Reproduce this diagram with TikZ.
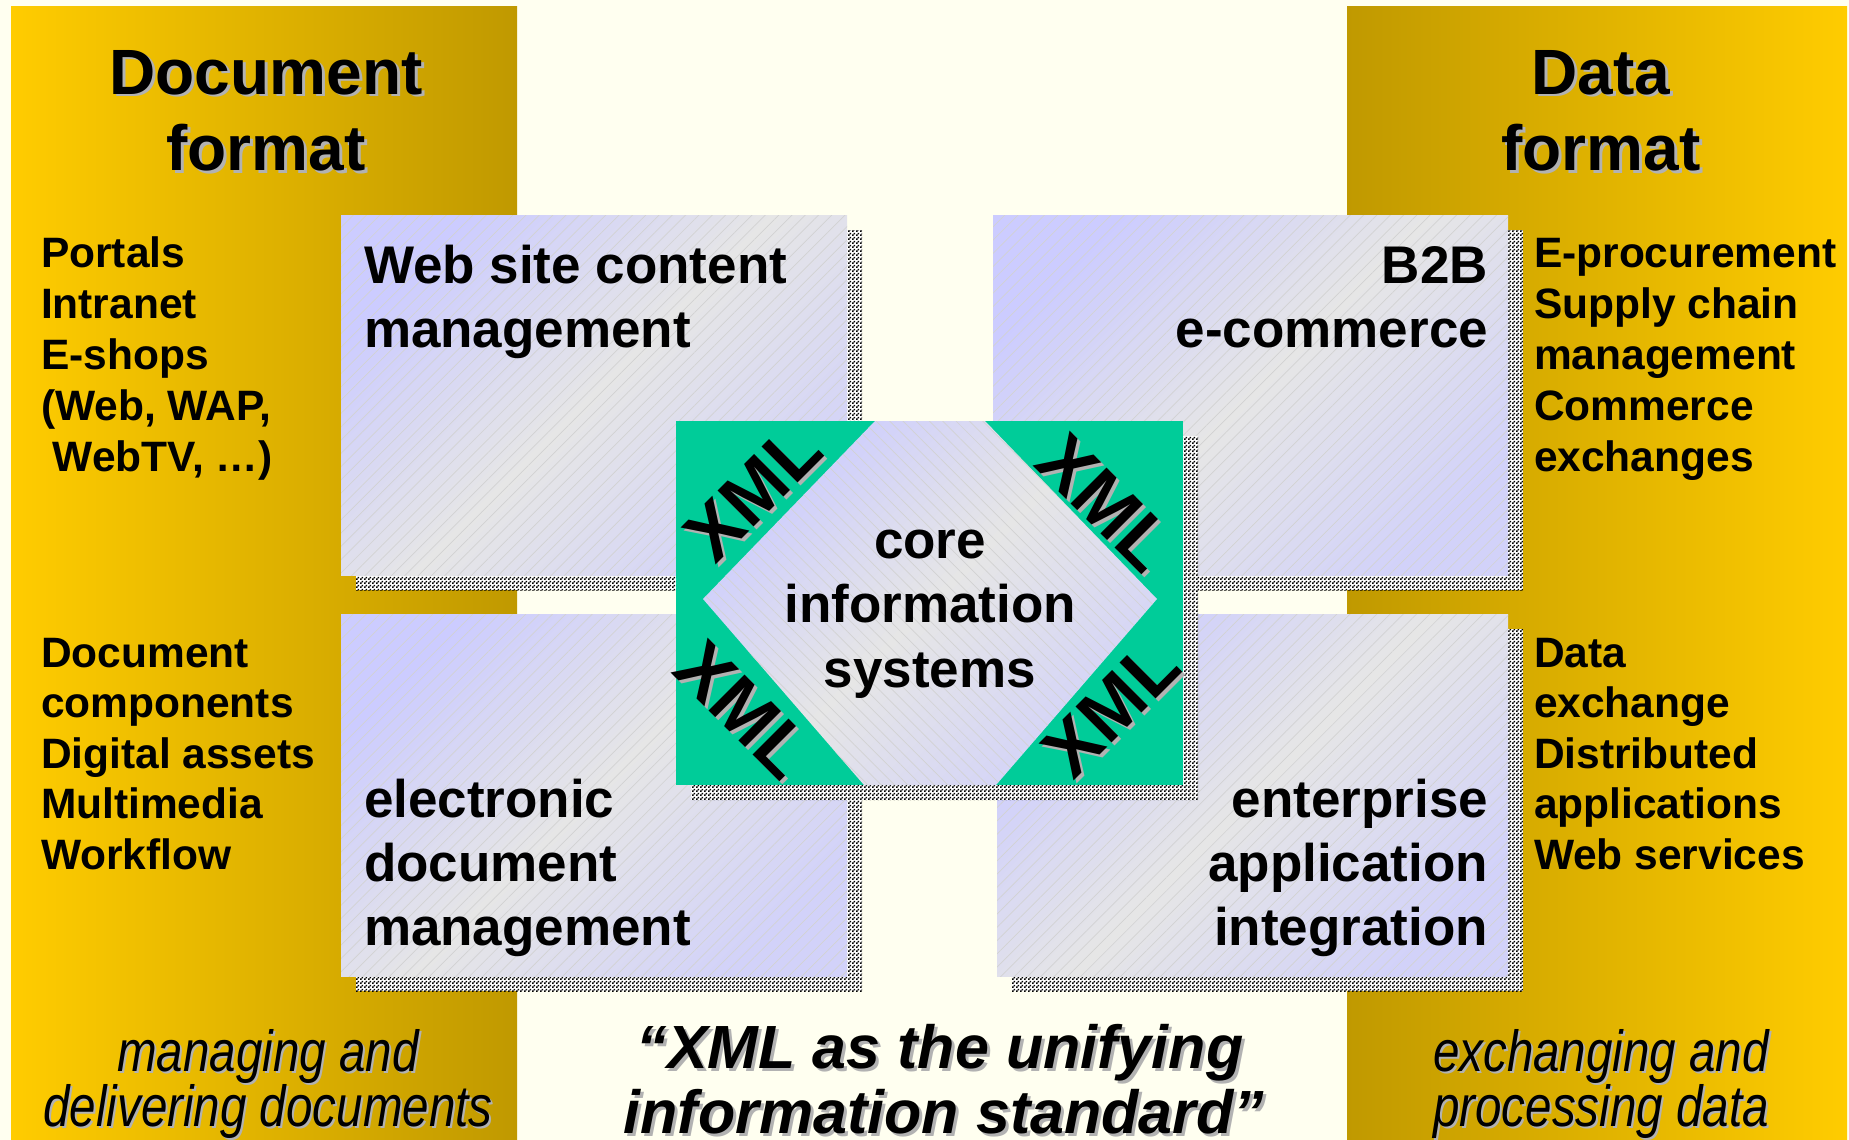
\documentclass[tikz,border=0pt]{standalone}
\usepackage{fontspec}
\setmainfont{Liberation Sans}
\newfontfamily\narrowsans[FakeStretch=0.82]{Liberation Sans}
\usetikzlibrary{calc,patterns,patterns.meta}

\definecolor{ivory}{RGB}{255,255,240}
\definecolor{goldlight}{RGB}{255,204,0}
\definecolor{golddark}{RGB}{192,153,0}
\definecolor{lavender}{RGB}{204,204,255}
\definecolor{softgray}{RGB}{230,230,230}
\definecolor{xmlgreen}{RGB}{0,204,153}
\definecolor{shadowgray}{RGB}{178,178,178}

% fine black/white dither used for drop shadows
\pgfdeclarepatternformonly{finecheck}{\pgfpointorigin}{\pgfpoint{2pt}{2pt}}{\pgfpoint{2pt}{2pt}}{%
  \pgfpathrectangle{\pgfpointorigin}{\pgfpoint{1pt}{1pt}}%
  \pgfpathrectangle{\pgfpoint{1pt}{1pt}}{\pgfpoint{1pt}{1pt}}%
  \pgfusepath{fill}}

\tikzset{
  every node/.style={inner sep=0pt, outer sep=0pt},
  panelL/.style={left color=goldlight, right color=golddark},
  panelR/.style={left color=golddark, right color=goldlight},
  cardshade/.style={top color=lavender, bottom color=lavender!75!softgray,
                    middle color=softgray, shading angle=45},
  cardhatch/.style={pattern={Lines[angle=45,distance=4.7pt,line width=0.35pt]},
                    pattern color=gray!35},
  corehatch/.style={pattern={Lines[angle=-45,distance=4.7pt,line width=0.35pt]},
                    pattern color=gray!35},
  dither/.style={pattern=finecheck, pattern color=black},
  headline/.style={font=\fontsize{32}{38}\selectfont\bfseries, anchor=base},
  listitem/.style={font=\fontsize{21.25}{25}\selectfont\bfseries, anchor=base west},
  cardtext/.style={font=\fontsize{26.5}{32}\selectfont\bfseries},
  xmltag/.style={font=\fontsize{37}{44}\selectfont\bfseries},
  remark/.style={font=\narrowsans\itshape\fontsize{29}{30}\selectfont, anchor=base},
  motto/.style={font=\fontsize{30.5}{32}\selectfont\bfseries\itshape, anchor=base},
}

% card with dithered drop shadow, gradient fill and fine hatching
\newcommand\card[2]{%
  \fill[white, shift={(15,15)}] #1 rectangle #2;
  \fill[dither, shift={(15,15)}] #1 rectangle #2;
  \shade[cardshade] #1 rectangle #2;
  \fill[cardhatch] #1 rectangle #2;
}

% text with a grey offset shadow: name, style, position, offset, text
\newcommand\shadowed[5]{%
  \node[#2, text=shadowgray] (#1-sh) at ($#3+(#4,#4)$) {#5};
  \node[#2] (#1) at #3 {#5};
}

\begin{document}
\begin{tikzpicture}[x=0.5pt, y=-0.5pt]
  \clip (0,0) rectangle (1849,1140);
  \fill[ivory] (0,0) rectangle (1849,1140);

  % side panels
  \shade[panelL] (11,6) rectangle (517,1140);
  \shade[panelR] (1347,6) rectangle (1847,1140);

  % panel headings
  \shadowed{docA}{headline}{(266,94)}{3}{Document}
  \shadowed{docB}{headline}{(266,170)}{3}{format}
  \shadowed{datA}{headline}{(1601,94)}{3}{Data}
  \shadowed{datB}{headline}{(1601,170)}{3}{format}

  % application areas
  \card{(341,215)}{(847,575)}
  \card{(993,215)}{(1508,575)}
  \card{(341,614)}{(847,976)}
  \card{(997,614)}{(1508,976)}

  \node[cardtext, anchor=base west] (web1) at (364,283) {Web site content};
  \node[cardtext, anchor=base west] (web2) at (364,347) {management};
  \node[cardtext, anchor=base east] (b2b1) at (1488,283) {B2B};
  \node[cardtext, anchor=base east] (b2b2) at (1488,347) {e-commerce};
  \node[cardtext, anchor=base west] (edm1) at (364,817) {electronic};
  \node[cardtext, anchor=base west] (edm2) at (364,881) {document};
  \node[cardtext, anchor=base west] (edm3) at (364,945) {management};
  \node[cardtext, anchor=base east] (eai1) at (1488,817) {enterprise};
  \node[cardtext, anchor=base east] (eai2) at (1488,881) {application};
  \node[cardtext, anchor=base east] (eai3) at (1488,945) {integration};

  % side lists
  \foreach \t [count=\i] in {Portals, Intranet, E-shops, {(Web, WAP,}, {\ WebTV, …)}}
    \node[listitem] (lu\i) at (41,{267+(\i-1)*51.2}) {\t};
  \foreach \t [count=\i] in {Document, components, Digital assets, Multimedia, Workflow}
    \node[listitem] (ll\i) at (41,{667+(\i-1)*50.6}) {\t};
  \foreach \t [count=\i] in {E-procurement, Supply chain, management, Commerce, exchanges}
    \node[listitem] (ru\i) at (1534,{267+(\i-1)*51.2}) {\t};
  \foreach \t [count=\i] in {Data, exchange, Distributed, applications, Web services}
    \node[listitem] (rl\i) at (1534,{667+(\i-1)*50.6}) {\t};

  % central XML block
  \fill[white, shift={(15,15)}] (676,421) rectangle (1183,785);
  \fill[dither, shift={(15,15)}] (676,421) rectangle (1183,785);
  \fill[xmlgreen] (676,421) rectangle (1183,785);
  \shade[cardshade] (703,599) -- (875,421) -- (985,421) -- (1157,599)
        -- (996,785) -- (864,785) -- cycle;
  \fill[corehatch] (703,599) -- (875,421) -- (985,421) -- (1157,599)
        -- (996,785) -- (864,785) -- cycle;

  \shadowed{xmlA}{xmltag, rotate=45}{(753,492)}{3}{XML}
  \shadowed{xmlB}{xmltag, rotate=-45}{(1106,503)}{3}{XML}
  \shadowed{xmlC}{xmltag, rotate=-45}{(744,710)}{3}{XML}
  \shadowed{xmlD}{xmltag, rotate=45}{(1111,708)}{3}{XML}

  \node[cardtext, anchor=base] (core1) at (930,558) {core};
  \node[cardtext, anchor=base] (core2) at (930,622) {information};
  \node[cardtext, anchor=base] (core3) at (930,687) {systems};

  % bottom captions
  \shadowed{capL1}{remark}{(268,1071)}{2}{managing and}
  \shadowed{capL2}{remark}{(268,1126)}{2}{delivering documents}
  \shadowed{capR1}{remark}{(1601,1071)}{2}{exchanging and}
  \shadowed{capR2}{remark}{(1601,1126)}{2}{processing data}
  \shadowed{mot1}{motto}{(940,1068)}{3}{“XML as the unifying}
  \shadowed{mot2}{motto}{(944,1133)}{3}{information standard”}
\end{tikzpicture}
\end{document}
